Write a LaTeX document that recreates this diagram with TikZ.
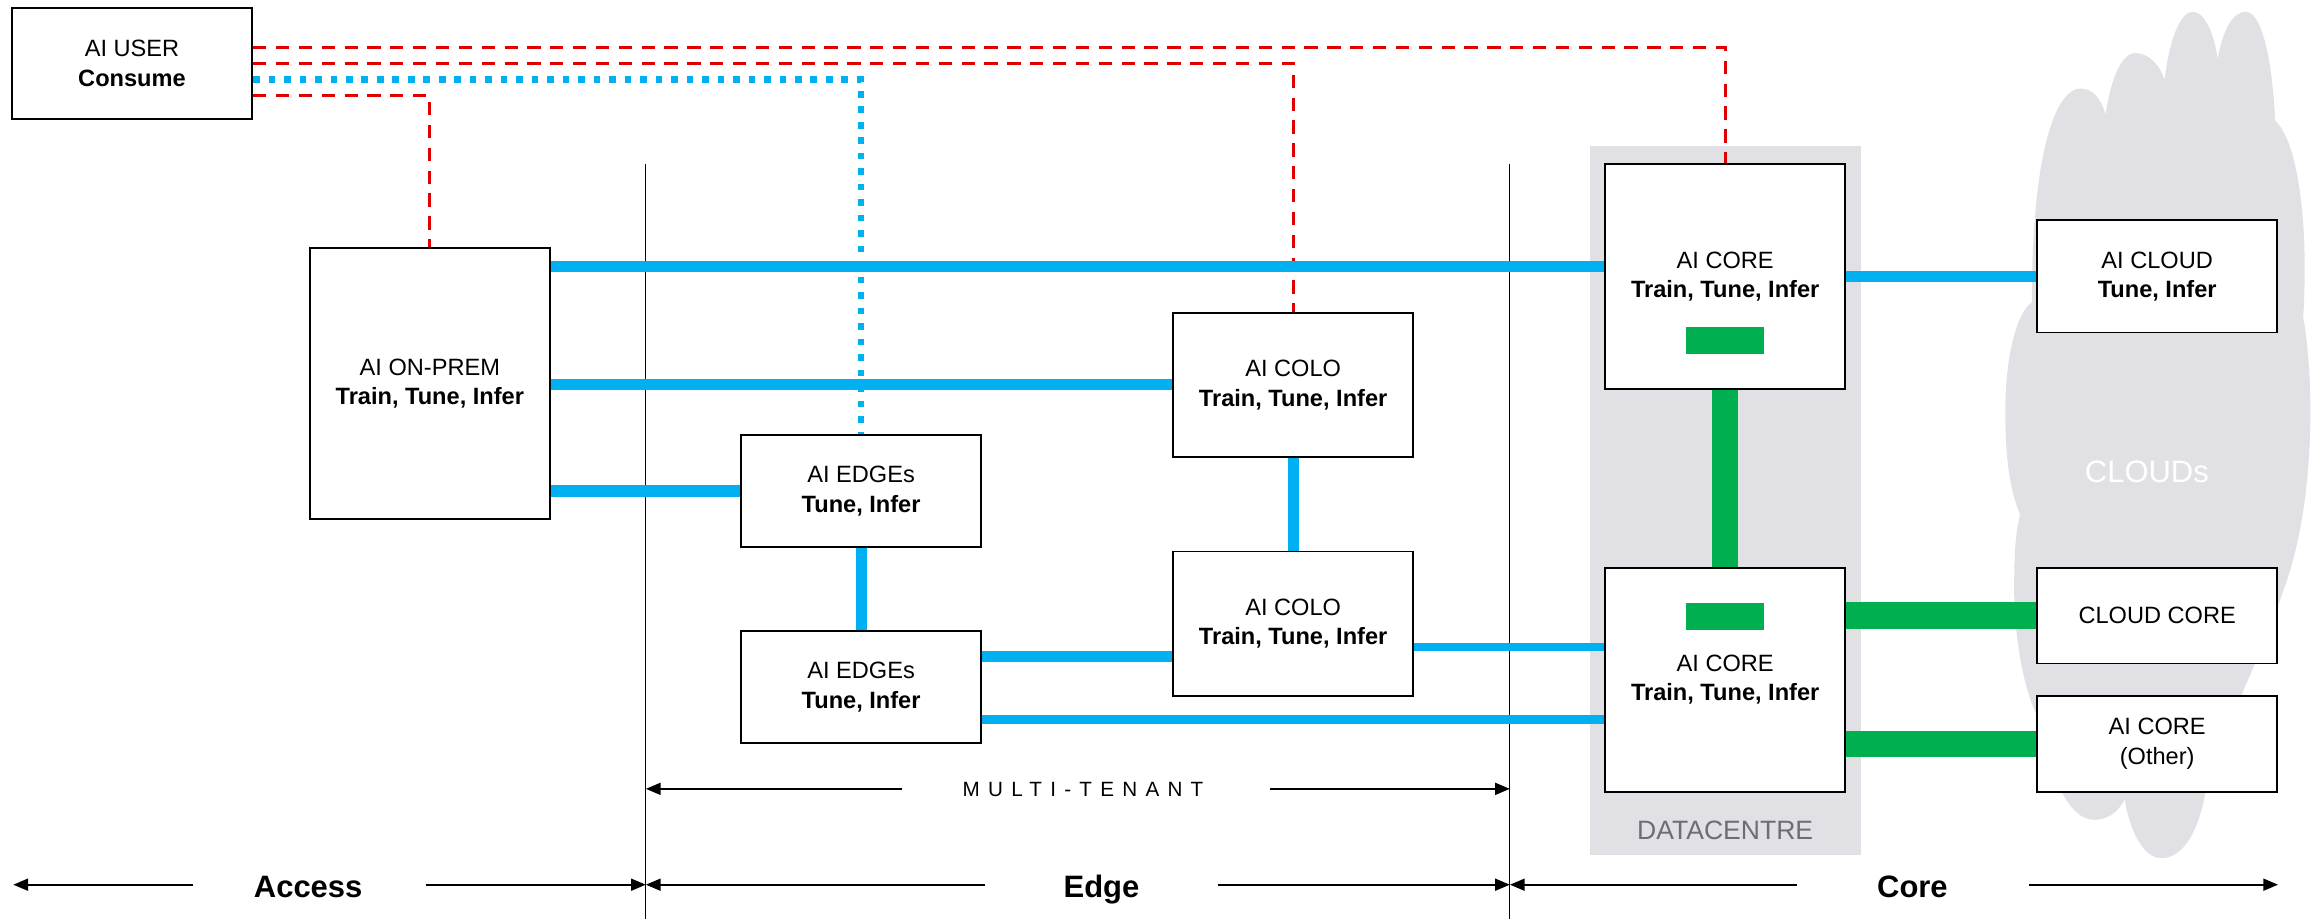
\documentclass[tikz,border=0pt]{standalone}
\usepackage{fontspec}
\setmainfont{Liberation Sans}
\usetikzlibrary{arrows.meta}
\definecolor{linkblue}{RGB}{0,176,240}
\definecolor{linkgreen}{RGB}{0,176,80}
\definecolor{userred}{RGB}{225,0,0}
\definecolor{zonegrey}{RGB}{225,224,229}
\definecolor{zonetext}{RGB}{112,108,118}

\begin{document}
\begin{tikzpicture}[
      x=1pt, y=-1pt,
      box/.style={draw, line width=1.3pt, fill=white, align=center, inner sep=2pt,
                  minimum width=163pt, font=\fontsize{16}{20}\selectfont},
      greenbar/.style={fill=linkgreen, minimum width=53pt, minimum height=18pt, inner sep=0pt},
      link/.style={linkblue, line width=7.5pt},
      thinlink/.style={linkblue, line width=5.6pt},
      corelink/.style={linkgreen, line width=18pt},
      userlink/.style={userred, line width=2.2pt, dash pattern=on 9pt off 6.5pt},
      userdot/.style={linkblue, line width=4.5pt, dash pattern=on 4.5pt off 6pt},
      divider/.style={line width=0.8pt},
      arr/.style={-{Triangle[length=10pt,width=8pt]}, line width=1.5pt},
      zone/.style={font=\fontsize{21}{24}\selectfont\bfseries, inner sep=0pt, anchor=base}
    ]
      \useasboundingbox (0,0) rectangle (1568,623);

      % background areas
      \node[fill=zonegrey, minimum width=184pt, minimum height=481pt, inner sep=0pt] (dc) at (1170,339.5) {};
      \fill[zonegrey] (1378,205)
        .. controls (1378,100) and (1395,60) .. (1411,60)
        .. controls (1421,60) and (1426,70) .. (1428,78)
        .. controls (1432,50) and (1440,36) .. (1448,36)
        .. controls (1458,36) and (1465,45) .. (1468,54)
        .. controls (1472,22) and (1480,8) .. (1487,8)
        .. controls (1496,8) and (1502,25) .. (1504,40)
        .. controls (1508,18) and (1515,8) .. (1523,8)
        .. controls (1534,8) and (1541,40) .. (1543,82)
        .. controls (1558,95) and (1566,150) .. (1562,215)
        .. controls (1570,260) and (1570,345) .. (1548,402)
        .. controls (1532,450) and (1505,500) .. (1497,530)
        .. controls (1492,565) and (1480,582) .. (1466,582)
        .. controls (1453,582) and (1444,562) .. (1441,542)
        .. controls (1436,552) and (1428,556) .. (1420,556)
        .. controls (1404,556) and (1390,528) .. (1384,490)
        .. controls (1372,470) and (1366,430) .. (1366,400)
        .. controls (1366,375) and (1367,360) .. (1370,349)
        .. controls (1362,330) and (1360,305) .. (1360,280)
        .. controls (1360,240) and (1368,212) .. (1378,205) -- cycle;
      \node[text=white, font=\fontsize{21}{24}\selectfont] (cloudlabel) at (1456,320) {CLOUDs};
      \node[text=zonetext, font=\fontsize{18}{20}\selectfont] (dclabel) at (1170,563) {DATACENTRE};

      % zone dividers
      \coordinate (divA) at (438,111);
      \coordinate (divAend) at (438,623);
      \coordinate (divB) at (1024,111);
      \coordinate (divBend) at (1024,623);
      \draw[divider] (divA) -- (divAend);
      \draw[divider] (divB) -- (divBend);

      % sites
      \node[box, minimum height=75pt] (user) at (89.5,43) {AI USER\\\textbf{Consume}};
      \node[box, minimum height=184pt] (onprem) at (291.5,260) {AI ON-PREM\\\textbf{Train, Tune, Infer}};
      \node[box, minimum height=98pt] (colo1) at (877,261) {AI COLO\\\textbf{Train, Tune, Infer}};
      \node[box, minimum height=98pt] (colo2) at (877,423) {AI COLO\\\textbf{Train, Tune, Infer}};
      \node[box, minimum height=76pt] (edge1) at (584,333) {AI EDGEs\\\textbf{Tune, Infer}};
      \node[box, minimum height=76pt] (edge2) at (584,466) {AI EDGEs\\\textbf{Tune, Infer}};
      \node[box, minimum height=153pt] (core1) at (1170,187.5) {AI CORE\\\textbf{Train, Tune, Infer}};
      \node[box, minimum height=152pt] (core2) at (1170,461) {AI CORE\\\textbf{Train, Tune, Infer}};
      \node[box, minimum height=76pt] (aicloud) at (1463,187.5) {AI CLOUD\\\textbf{Tune, Infer}};
      \node[box, minimum height=65pt] (cloudcore) at (1463,417.5) {CLOUD CORE};
      \node[box, minimum height=65pt] (coreother) at (1463,504.5) {AI CORE\\(Other)};

      % consumer paths
      \draw[userlink] ([yshift=11pt]user.east) -| (core1.north);
      \draw[userlink] (user.east) -| (colo1.north);
      \draw[userdot] ([yshift=-11pt]user.east) -| (edge1.north);
      \draw[userlink] ([yshift=-22pt]user.east) -| (onprem.north);

      % network links
      \draw[link] ([yshift=79pt]onprem.east) -- ([yshift=6.5pt]core1.west);
      \draw[link] ([yshift=-1pt]onprem.east) -- (colo1.west);
      \draw[link] ([yshift=-73pt]onprem.east) -- (edge1.west);
      \draw[link] (edge1.south) -- (edge2.north);
      \draw[link] (colo1.south) -- (colo2.north);
      \draw[link] ([yshift=21pt]edge2.east) -- ([yshift=-22pt]colo2.west);
      \draw[thinlink] ([yshift=-16pt]colo2.east) -- ([yshift=22pt]core2.west);
      \draw[thinlink] ([yshift=-22pt]edge2.east) -- ([yshift=-27pt]core2.west);
      \draw[link] (core1.east) -- (aicloud.west);
      \draw[corelink] (core1.south) -- (core2.north);
      \draw[corelink] (core2.east |- cloudcore.west) -- (cloudcore.west);
      \draw[corelink] (core2.east |- coreother.west) -- (coreother.west);
      \node[greenbar] (barA) at (1170,231) {};
      \node[greenbar] (barB) at (1170,418) {};

      % zones along the bottom
      \coordinate (farleft) at (9,600);
      \coordinate (farright) at (1545,600);
      \coordinate (mtleft) at (438,535);
      \coordinate (mtright) at (1024,535);
      \node[font=\fontsize{14}{16}\selectfont\addfontfeature{LetterSpace=40}, inner sep=0pt, anchor=base] (tenant) at (734.5,540) {MULTI-TENANT};
      \node[zone] (access) at (209,609) {Access};
      \node[zone] (edge) at (747,609) {Edge};
      \node[zone] (core) at (1297,609) {Core};

      \draw[arr] ([shift={(-41pt,5pt)}]tenant.base west) -- (mtleft);
      \draw[arr] ([shift={(45pt,5pt)}]tenant.base east) -- (mtright);
      \draw[arr] ([shift={(-41pt,9pt)}]access.base west) -- (farleft);
      \draw[arr] ([shift={(43pt,9pt)}]access.base east) -- (divAend |- farleft);
      \draw[arr] ([shift={(-53pt,9pt)}]edge.base west) -- (divAend |- farleft);
      \draw[arr] ([shift={(53pt,9pt)}]edge.base east) -- (divBend |- farleft);
      \draw[arr] ([shift={(-54pt,9pt)}]core.base west) -- (divBend |- farleft);
      \draw[arr] ([shift={(55pt,9pt)}]core.base east) -- (farright);
    \end{tikzpicture}
\end{document}
